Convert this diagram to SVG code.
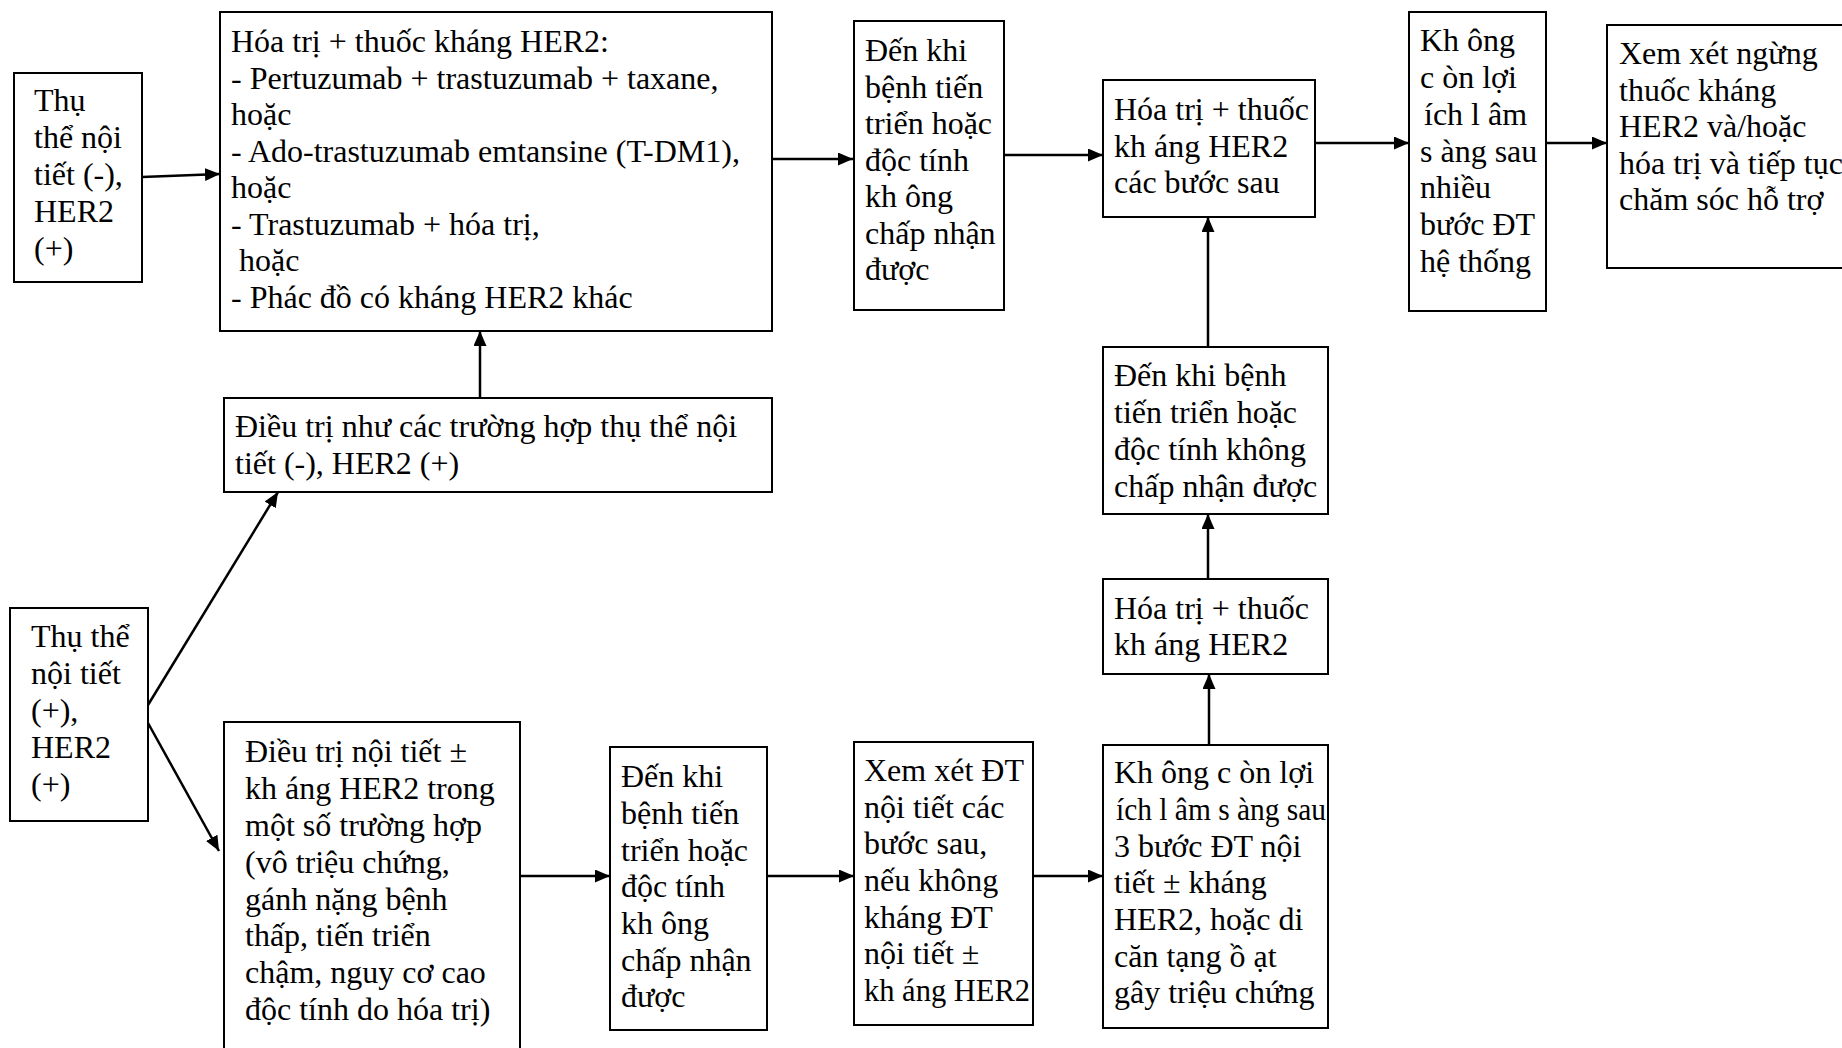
<svg xmlns="http://www.w3.org/2000/svg" width="1842" height="1048" viewBox="0 0 1842 1048">
<style>
.box{fill:#fff;stroke:#000;stroke-width:2}
.t{font-family:"Liberation Serif","Times New Roman",serif;font-size:32px;fill:#000}
.c{stroke:#000;stroke-width:2.5;fill:none;marker-end:url(#ah)}
</style>
<defs>
<marker id="ah" markerUnits="userSpaceOnUse" markerWidth="16" markerHeight="14" refX="15" refY="6.5" orient="auto">
<path d="M0,0 L15,6.5 L0,13 z" fill="#000"/>
</marker>
</defs>
<rect width="1842" height="1048" fill="#fff"/>

<g id="connectors">
<line class="c" x1="142" y1="177" x2="220" y2="174"/>
<line class="c" x1="772" y1="159" x2="853" y2="159"/>
<line class="c" x1="1004" y1="155" x2="1103" y2="155"/>
<line class="c" x1="1315" y1="143" x2="1409" y2="143"/>
<line class="c" x1="1546" y1="143" x2="1607" y2="143"/>
<line class="c" x1="480" y1="398" x2="480" y2="331"/>
<line class="c" x1="148" y1="705" x2="278" y2="492"/>
<line class="c" x1="148" y1="723" x2="219" y2="851"/>
<line class="c" x1="520" y1="876" x2="610" y2="876"/>
<line class="c" x1="767" y1="876" x2="854" y2="876"/>
<line class="c" x1="1033" y1="876" x2="1103" y2="876"/>
<line class="c" x1="1209" y1="745" x2="1209" y2="674"/>
<line class="c" x1="1208" y1="579" x2="1208" y2="514"/>
<line class="c" x1="1208" y1="347" x2="1208" y2="217"/>
</g>

<g id="nodeA">
<rect class="box" x="14" y="73" width="128" height="209"/>
<text class="t" x="34"><tspan x="34" y="111">Thụ</tspan><tspan x="34" y="148">thể nội</tspan><tspan x="34" y="185">tiết (-),</tspan><tspan x="34" y="222">HER2</tspan><tspan x="34" y="259">(+)</tspan></text>
</g>

<g id="nodeB">
<rect class="box" x="220" y="12" width="552" height="319"/>
<text class="t"><tspan x="231" y="52">Hóa trị + thuốc kháng HER2:</tspan><tspan x="231" y="88.5">- Pertuzumab + trastuzumab + taxane,</tspan><tspan x="231" y="125">hoặc</tspan><tspan x="231" y="161.5">- Ado-trastuzumab emtansine (T-DM1),</tspan><tspan x="231" y="198">hoặc</tspan><tspan x="231" y="234.5">- Trastuzumab + hóa trị,</tspan><tspan x="239" y="271">hoặc</tspan><tspan x="231" y="307.5">- Phác đồ có kháng HER2 khác</tspan></text>
</g>

<g id="nodeC">
<rect class="box" x="854" y="21" width="150" height="289"/>
<text class="t"><tspan x="865" y="61">Đến khi</tspan><tspan x="865" y="97.5">bệnh tiến</tspan><tspan x="865" y="134">triển hoặc</tspan><tspan x="865" y="170.5">độc tính</tspan><tspan x="865" y="207">kh ông</tspan><tspan x="865" y="243.5">chấp nhận</tspan><tspan x="865" y="280">được</tspan></text>
</g>

<g id="nodeD">
<rect class="box" x="1103" y="80" width="212" height="137"/>
<text class="t"><tspan x="1114" y="120">Hóa trị + thuốc</tspan><tspan x="1114" y="157">kh áng HER2</tspan><tspan x="1114" y="193">các bước sau</tspan></text>
</g>

<g id="nodeE">
<rect class="box" x="1409" y="12" width="137" height="299"/>
<text class="t"><tspan x="1420" y="51">Kh ông</tspan><tspan x="1420" y="88">c òn lợi</tspan><tspan x="1424" y="125">ích l âm</tspan><tspan x="1420" y="162">s àng sau</tspan><tspan x="1420" y="198">nhiều</tspan><tspan x="1420" y="235">bước ĐT</tspan><tspan x="1420" y="272">hệ thống</tspan></text>
</g>

<g id="nodeF">
<rect class="box" x="1607" y="25" width="300" height="243"/>
<text class="t"><tspan x="1619" y="64">Xem xét ngừng</tspan><tspan x="1619" y="100.5">thuốc kháng</tspan><tspan x="1619" y="137">HER2 và/hoặc</tspan><tspan x="1619" y="173.5">hóa trị và tiếp tục</tspan><tspan x="1619" y="210">chăm sóc hỗ trợ</tspan></text>
</g>

<g id="nodeG">
<rect class="box" x="224" y="398" width="548" height="94"/>
<text class="t"><tspan x="235" y="437">Điều trị như các trường hợp thụ thể nội</tspan><tspan x="235" y="474">tiết (-), HER2 (+)</tspan></text>
</g>

<g id="nodeH">
<rect class="box" x="10" y="608" width="138" height="213"/>
<text class="t"><tspan x="31" y="647">Thụ thể</tspan><tspan x="31" y="684">nội tiết</tspan><tspan x="31" y="721">(+),</tspan><tspan x="31" y="758">HER2</tspan><tspan x="31" y="795">(+)</tspan></text>
</g>

<g id="nodeI">
<rect class="box" x="224" y="722" width="296" height="340"/>
<text class="t"><tspan x="245" y="762">Điều trị nội tiết ±</tspan><tspan x="245" y="799">kh áng HER2 trong</tspan><tspan x="245" y="836">một số trường hợp</tspan><tspan x="245" y="873">(vô triệu chứng,</tspan><tspan x="245" y="910">gánh nặng bệnh</tspan><tspan x="245" y="946">thấp, tiến triển</tspan><tspan x="245" y="983">chậm, nguy cơ cao</tspan><tspan x="245" y="1020">độc tính do hóa trị)</tspan></text>
</g>

<g id="nodeJ">
<rect class="box" x="610" y="747" width="157" height="283"/>
<text class="t"><tspan x="621" y="787">Đến khi</tspan><tspan x="621" y="824">bệnh tiến</tspan><tspan x="621" y="861">triển hoặc</tspan><tspan x="621" y="897">độc tính</tspan><tspan x="621" y="934">kh ông</tspan><tspan x="621" y="971">chấp nhận</tspan><tspan x="621" y="1007">được</tspan></text>
</g>

<g id="nodeK">
<rect class="box" x="854" y="742" width="179" height="283"/>
<text class="t"><tspan x="864" y="781">Xem xét ĐT</tspan><tspan x="864" y="818">nội tiết các</tspan><tspan x="864" y="854">bước sau,</tspan><tspan x="864" y="891">nếu không</tspan><tspan x="864" y="928">kháng  ĐT</tspan><tspan x="864" y="964">nội tiết ±</tspan><tspan x="864" y="1001" textLength="166" lengthAdjust="spacingAndGlyphs">kh áng HER2</tspan></text>
</g>

<g id="nodeL">
<rect class="box" x="1103" y="745" width="225" height="283"/>
<text class="t"><tspan x="1114" y="783">Kh ông c òn lợi</tspan><tspan x="1116" y="820" textLength="210" lengthAdjust="spacingAndGlyphs">ích l âm s àng sau</tspan><tspan x="1114" y="857">3 bước ĐT nội</tspan><tspan x="1114" y="893">tiết ± kháng</tspan><tspan x="1114" y="930">HER2, hoặc di</tspan><tspan x="1114" y="967">căn tạng ồ ạt</tspan><tspan x="1114" y="1003">gây triệu chứng</tspan></text>
</g>

<g id="nodeM">
<rect class="box" x="1103" y="579" width="225" height="95"/>
<text class="t"><tspan x="1114" y="619">Hóa trị + thuốc</tspan><tspan x="1114" y="655">kh áng HER2</tspan></text>
</g>

<g id="nodeN">
<rect class="box" x="1103" y="347" width="225" height="167"/>
<text class="t"><tspan x="1114" y="386">Đến khi bệnh</tspan><tspan x="1114" y="423">tiến triển hoặc</tspan><tspan x="1114" y="460">độc tính không</tspan><tspan x="1114" y="497">chấp nhận được</tspan></text>
</g>
</svg>
